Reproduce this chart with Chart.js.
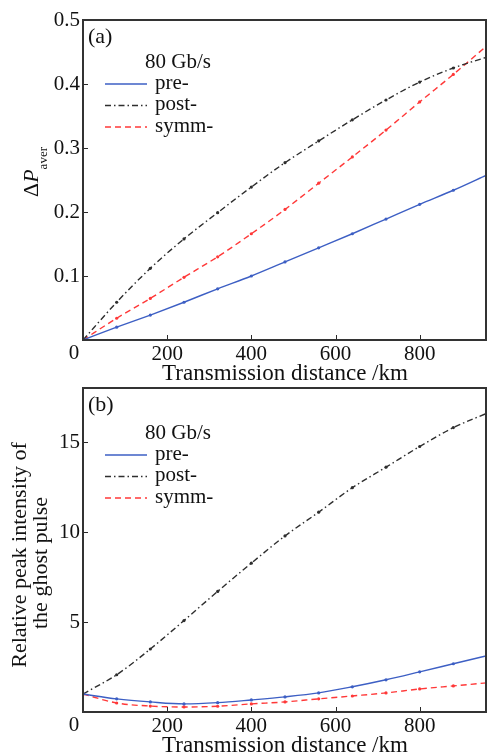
<!DOCTYPE html>
<html>
<head>
<meta charset="utf-8">
<script src="https://cdn.jsdelivr.net/npm/chart.js@4.4.0/dist/chart.umd.min.js"></script>
<style>
html, body { margin: 0; padding: 0; background: #fff; }
#wrap { position: relative; width: 487px; height: 753px; }
canvas { position: absolute; left: 0; }
</style>
</head>
<body>
<div id="wrap">
  <canvas id="chartA" width="487" height="380" style="top:0"></canvas>
  <canvas id="chartB" width="487" height="373" style="top:380px"></canvas>
</div>
<script>
// transmission distance, km
const distance = [0, 80, 160, 240, 320, 400, 480, 560, 640, 720, 800, 880, 960];

// (a) delta P_aver
const preA  = [0, 0.020, 0.039, 0.059, 0.080, 0.100, 0.122, 0.144, 0.166, 0.189, 0.212, 0.234, 0.258];
const postA = [0, 0.059, 0.112, 0.158, 0.199, 0.239, 0.277, 0.311, 0.344, 0.375, 0.403, 0.425, 0.442];
const symmA = [0, 0.034, 0.065, 0.098, 0.130, 0.166, 0.204, 0.245, 0.286, 0.328, 0.372, 0.415, 0.460];

// (b) relative peak intensity of the ghost pulse
const preB  = [1.0, 0.73, 0.56, 0.45, 0.52, 0.67, 0.84, 1.06, 1.40, 1.79, 2.23, 2.68, 3.13];
const postB = [1.0, 2.07, 3.50, 5.08, 6.70, 8.27, 9.78, 11.1, 12.46, 13.6, 14.75, 15.8, 16.6];
const symmB = [1.0, 0.50, 0.33, 0.28, 0.32, 0.45, 0.56, 0.73, 0.89, 1.06, 1.28, 1.45, 1.62];

const xTicks  = [0, 200, 400, 600, 800];
const yTicksA = [0.1, 0.2, 0.3, 0.4, 0.5];
const yTicksB = [5, 10, 15];

const SERIF = '"Liberation Serif", "DejaVu Serif", serif';
const BLUE = '#3d5fc4', BLACK = '#2e2e2e', RED = '#ff3838';

function series(label, vals, color, dash) {
  return {
    label: label,
    data: distance.map((d, i) => ({ x: d, y: vals[i] })),
    borderColor: color,
    backgroundColor: color,
    borderWidth: 1.4,
    borderDash: dash,
    pointRadius: 1.6,
    pointBorderWidth: 0,
    pointBackgroundColor: color,
    cubicInterpolationMode: 'monotone',
    fill: false
  };
}

function noPad(s) {
  s.paddingLeft = 0; s.paddingRight = 0; s.paddingTop = 0; s.paddingBottom = 0;
}

// frame, inward ticks, titles, legend
const deco = {
  id: 'deco',
  afterDraw(chart, args, o) {
    const ctx = chart.ctx, a = chart.chartArea;
    const xs = chart.scales.x, ys = chart.scales.y;
    ctx.save();
    ctx.strokeStyle = '#2a2a2a';
    ctx.lineWidth = 1;
    ctx.beginPath();
    xs.ticks.forEach(t => {
      const p = Math.round(xs.getPixelForValue(t.value)) + 0.5;
      ctx.moveTo(p, a.bottom); ctx.lineTo(p, a.bottom - 5);
    });
    ys.ticks.forEach(t => {
      const p = Math.round(ys.getPixelForValue(t.value)) + 0.5;
      ctx.moveTo(a.left, p); ctx.lineTo(a.left + 5, p);
    });
    ctx.stroke();

    ctx.lineWidth = 2;
    ctx.strokeStyle = '#333';
    ctx.strokeRect(a.left, a.top, a.right - a.left - 1, a.bottom - a.top);

    ctx.fillStyle = '#111';
    ctx.textBaseline = 'middle';

    // shared origin label, set a little left of the corner
    ctx.font = '21px ' + SERIF;
    ctx.textAlign = 'center';
    ctx.fillText('0', xs.getPixelForValue(0) - 9, a.bottom + 13);

    // panel label
    ctx.font = '22px ' + SERIF;
    ctx.textAlign = 'left';
    ctx.fillText(o.panel, 88, o.panelY);

    // legend
    ctx.font = '21px ' + SERIF;
    ctx.textAlign = 'center';
    ctx.fillText('80 Gb/s', 178, o.legendY);
    chart.data.datasets.forEach((ds, i) => {
      const y = o.legendY + 22 + i * 21.5;
      ctx.save();
      ctx.strokeStyle = ds.borderColor;
      ctx.lineWidth = 1.4;
      ctx.setLineDash(ds.borderDash);
      ctx.beginPath();
      ctx.moveTo(105, y); ctx.lineTo(147, y);
      ctx.stroke();
      ctx.restore();
      ctx.textAlign = 'left';
      ctx.fillText(ds.label, 155, y - 1);
    });

    // x title
    ctx.font = '23px ' + SERIF;
    ctx.textAlign = 'center';
    ctx.fillText('Transmission distance /km', (a.left + a.right) / 2, o.xTitleY);

    o.yTitle(ctx);
    ctx.restore();
  }
};

function makeChart(id, sets, yMax, yTicks, deco_opts, padTop, xAxisH) {
  return new Chart(document.getElementById(id), {
    type: 'line',
    data: { datasets: sets },
    plugins: [deco],
    options: {
      responsive: false,
      animation: false,
      layout: { autoPadding: false, padding: { top: padTop, left: 0, right: 0, bottom: 0 } },
      plugins: { legend: { display: false }, tooltip: { enabled: false }, deco: deco_opts },
      scales: {
        x: {
          type: 'linear', min: 0, max: 960,
          grid: { display: false, drawTicks: false },
          border: { display: false },
          ticks: {
            padding: 2, color: '#111', font: { family: SERIF, size: 21 }, maxRotation: 0,
            callback: v => (v === 0 ? '' : v)
          },
          afterBuildTicks: s => { s.ticks = xTicks.map(v => ({ value: v })); },
          afterFit: s => { s.height = xAxisH; noPad(s); }
        },
        y: {
          min: 0, max: yMax,
          grid: { display: false, drawTicks: false },
          border: { display: false },
          ticks: { padding: 3, color: '#111', font: { family: SERIF, size: 21 } },
          afterBuildTicks: s => { s.ticks = yTicks.map(v => ({ value: v })); },
          afterFit: s => { s.width = 83; noPad(s); }
        }
      }
    }
  });
}

makeChart('chartA', [
  series('pre-', preA, BLUE, []),
  series('post-', postA, BLACK, [6, 3, 1.5, 3]),
  series('symm-', symmA, RED, [6, 4])
], 0.5, yTicksA, {
  panel: '(a)', panelY: 37, legendY: 62, xTitleY: 374,
  yTitle: ctx => {
    ctx.save();
    ctx.translate(38, 172);
    ctx.rotate(-Math.PI / 2);
    ctx.textBaseline = 'alphabetic';
    ctx.textAlign = 'left';
    ctx.font = '22px ' + SERIF;
    const wD = ctx.measureText('\u0394').width;
    ctx.font = 'italic 22px ' + SERIF;
    const wP = ctx.measureText('P').width;
    ctx.font = '13px ' + SERIF;
    const wS = ctx.measureText('aver').width;
    let u = -(wD + wP + wS) / 2;
    ctx.font = '22px ' + SERIF;
    ctx.fillText('\u0394', u, 0); u += wD;
    ctx.font = 'italic 22px ' + SERIF;
    ctx.fillText('P', u, 0); u += wP;
    ctx.font = '13px ' + SERIF;
    ctx.fillText('aver', u, 9);
    ctx.restore();
  }
}, 20, 40);

makeChart('chartB', [
  series('pre-', preB, BLUE, []),
  series('post-', postB, BLACK, [6, 3, 1.5, 3]),
  series('symm-', symmB, RED, [6, 4])
], 18, yTicksB, {
  panel: '(b)', panelY: 25, legendY: 53, xTitleY: 366,
  yTitle: ctx => {
    ctx.save();
    ctx.font = '22px ' + SERIF;
    ctx.textAlign = 'center';
    ctx.textBaseline = 'middle';
    ctx.translate(20, 175);
    ctx.rotate(-Math.PI / 2);
    ctx.fillText('Relative peak intensity of', 0, 0);
    ctx.restore();
    ctx.save();
    ctx.font = '22px ' + SERIF;
    ctx.textAlign = 'center';
    ctx.textBaseline = 'middle';
    ctx.translate(41, 183);
    ctx.rotate(-Math.PI / 2);
    ctx.fillText('the ghost pulse', 0, 0);
    ctx.restore();
  }
}, 8, 41);
</script>
</body>
</html>
